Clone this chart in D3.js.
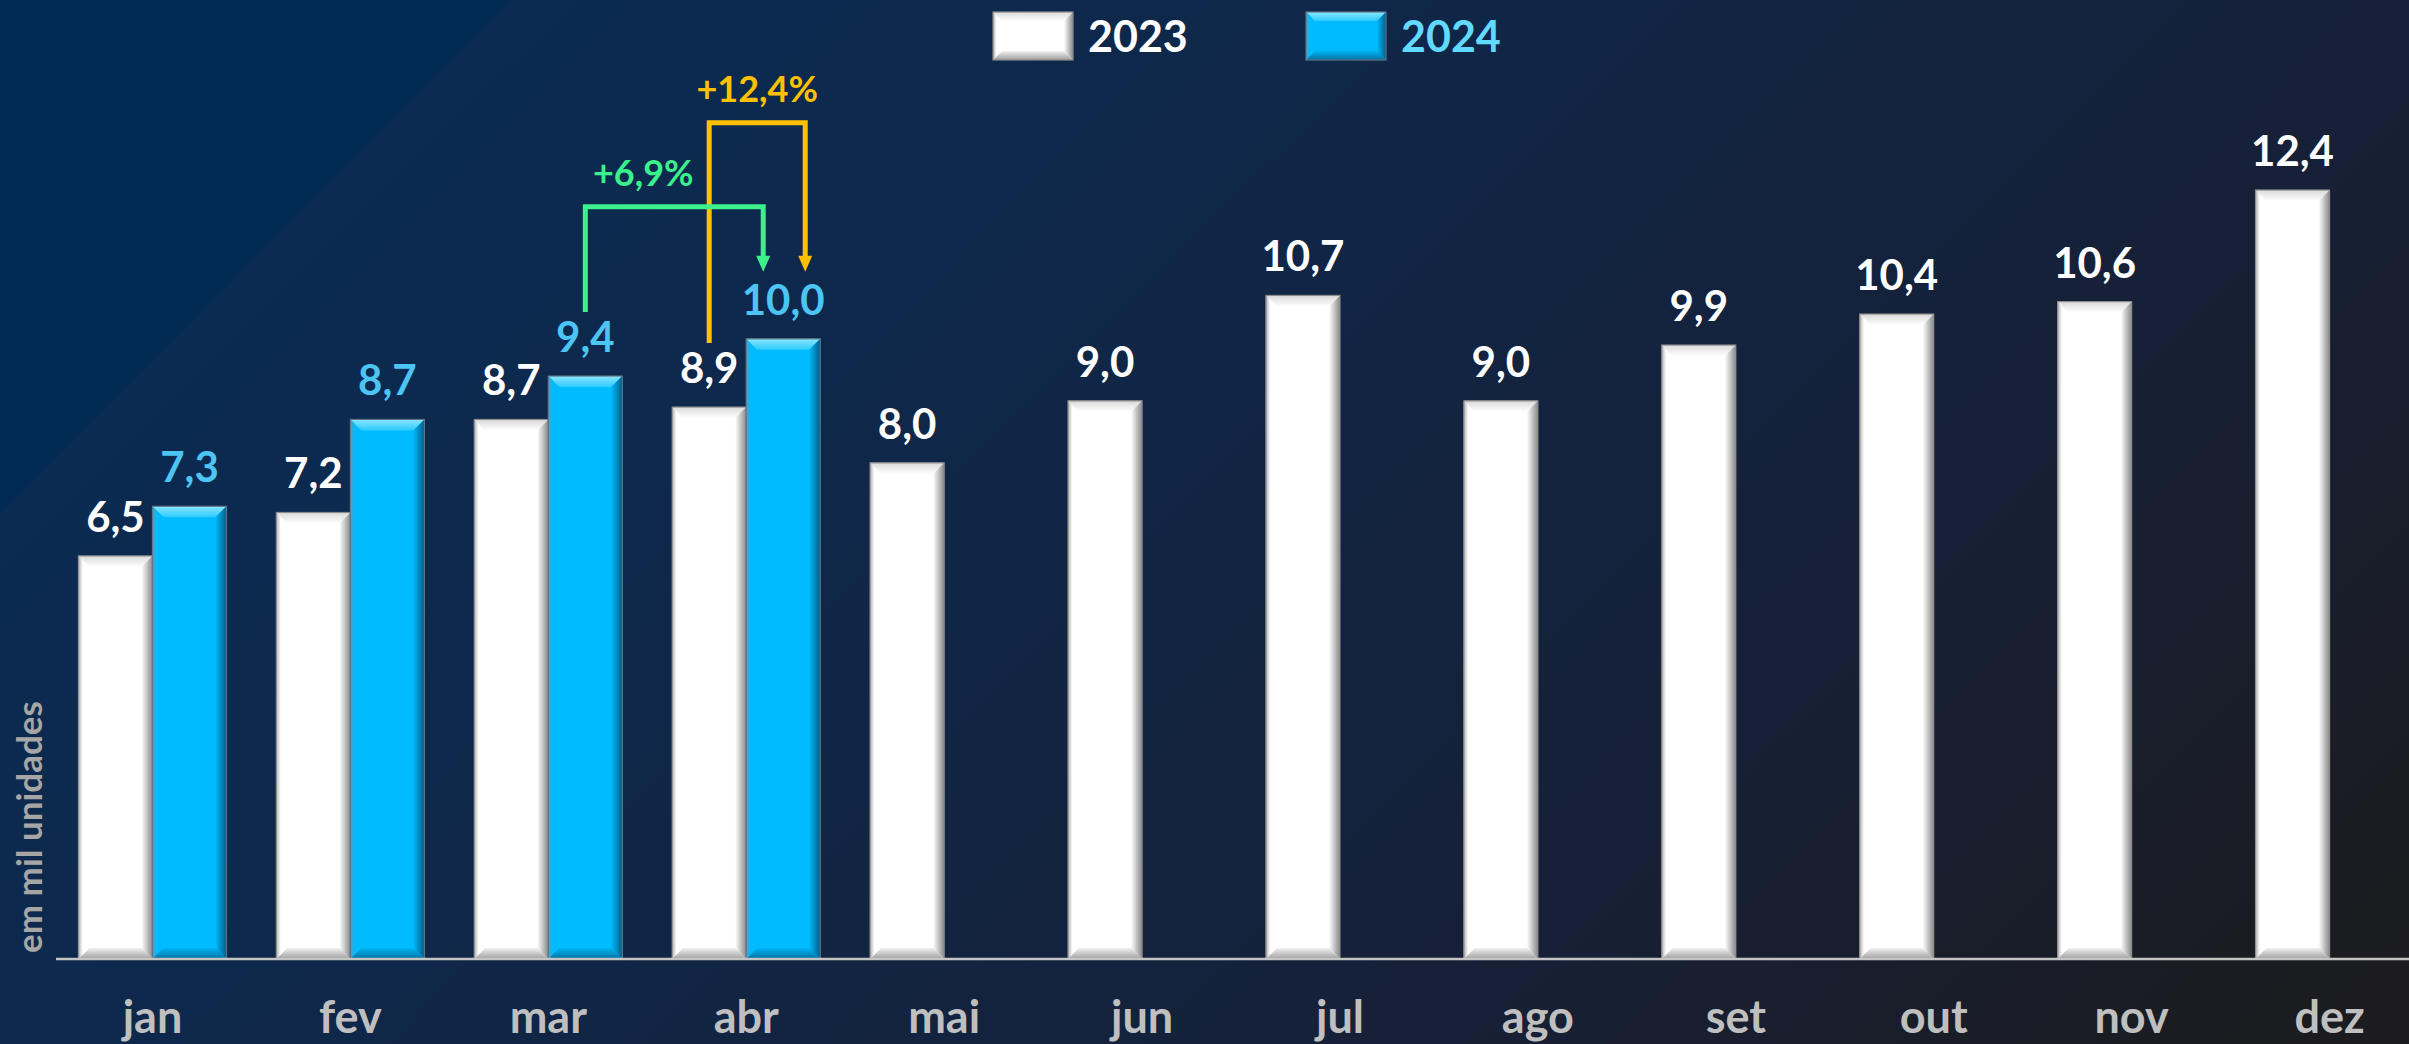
<!DOCTYPE html>
<html>
<head>
<meta charset="utf-8">
<script src="https://d3js.org/d3.v7.min.js"></script>
<title>vendas mensais</title>
<style>
  html, body { margin: 0; padding: 0; background: #0f2747; overflow: hidden; }
  svg { display: block; }
  text { font-family: Lato, "Open Sans", sans-serif; font-weight: 700; }
</style>
</head>
<body>
<svg id="chart"></svg>
<script>
// values (em mil unidades)
const months = ['jan', 'fev', 'mar', 'abr', 'mai', 'jun', 'jul', 'ago', 'set', 'out', 'nov', 'dez'];
const series = ['2023', '2024'];
const values2023 = [6.5, 7.2, 8.7, 8.9, 8.0, 9.0, 10.7, 9.0, 9.9, 10.4, 10.6, 12.4];
const values2024 = [7.3, 8.7, 9.4, 10.0];
const yTitle = 'em mil unidades';

// growth arrows: label, from [month, series], to [month, series]
const growthLabels = ['+6,9%', '+12,4%'];
const growthFrom = [['mar', '2024'], ['abr', '2023']];
const growthTo = [['abr', '2024'], ['abr', '2024']];

const width = 2409, height = 1044;
const svg = d3.select('#chart').attr('width', width).attr('height', height);
const defs = svg.append('defs');

// background
const bg = defs.append('linearGradient').attr('id', 'bg')
    .attr('gradientUnits', 'userSpaceOnUse')
    .attr('x1', 0).attr('y1', 0).attr('x2', 1727).attr('y2', 1727);
[[0, '#082d56'], [0.2, '#0c2a50'], [0.35, '#0e284b'], [0.7, '#162038'], [0.94, '#1b1c21'], [1, '#1c1c1f']]
    .forEach(s => bg.append('stop').attr('offset', s[0]).attr('stop-color', s[1]));
svg.append('rect').attr('width', width).attr('height', height).attr('fill', 'url(#bg)');
svg.append('path').attr('d', 'M0,0 L510,0 L0,515 Z').attr('fill', '#002c54').attr('opacity', 0.85);

// bevel gradients
function grad(id, vertical, c0, c1) {
    const g = defs.append('linearGradient').attr('id', id)
        .attr('x1', 0).attr('y1', 0).attr('x2', vertical ? 0 : 1).attr('y2', vertical ? 1 : 0);
    g.append('stop').attr('offset', 0).attr('stop-color', c0);
    g.append('stop').attr('offset', 1).attr('stop-color', c1);
}
grad('w-top', true, '#d9d9d9', '#ffffff');
grad('w-left', false, '#b3b3b3', '#ffffff');
grad('w-right', false, '#ffffff', '#8a8a8a');
grad('w-bottom', true, '#f2f2f2', '#9e9e9e');
grad('b-top', true, '#8ae6ff', '#2ccbff');
grad('b-left', false, '#5b9dbb', '#00bbff');
grad('b-right', false, '#00b8fb', '#005d88');
grad('b-bottom', true, '#00b4f5', '#00709e');

const look = {
    '2023': {fill: '#ffffff', pre: 'w', stroke: '#8c8c8c', label: '#ffffff', legend: '#ffffff'},
    '2024': {fill: '#00bbff', pre: 'b', stroke: '#5f7485', label: '#4cc4f4', legend: '#62d9ff'}
};

// scales
const x = d3.scaleBand().domain(months).range([53.5, 2428.5]).paddingInner(0.252).paddingOuter(0.126);
const xs = d3.scaleBand().domain(series).range([0, x.bandwidth()]);
const y = d3.scaleLinear().domain([0, 12.4]).range([959, 190]);

const bars = [];
months.forEach((m, i) => {
    bars.push({month: m, series: '2023', value: values2023[i]});
    if (i < values2024.length) bars.push({month: m, series: '2024', value: values2024[i]});
});
const cx = (m, s) => x(m) + xs(s) + xs.bandwidth() / 2;
const valueOf = (m, s) => (s === '2023' ? values2023 : values2024)[months.indexOf(m)];

function bevelBox(g, x0, y0, w, h, s, b) {
    const L = look[s];
    g.append('rect').attr('x', x0).attr('y', y0).attr('width', w).attr('height', h).attr('fill', L.fill);
    const x1 = x0 + w, y1 = y0 + h;
    const sides = {
        top: [[x0, y0], [x1, y0], [x1 - b, y0 + b], [x0 + b, y0 + b]],
        left: [[x0, y0], [x0 + b * 0.4, y0 + b * 0.4], [x0 + b * 0.4, y1 - b * 0.4], [x0, y1]],
        right: [[x1, y0], [x1 - b, y0 + b], [x1 - b, y1 - b], [x1, y1]],
        bottom: [[x0, y1], [x0 + b, y1 - b], [x1 - b, y1 - b], [x1, y1]]
    };
    Object.keys(sides).forEach(k => {
        g.append('polygon').attr('points', sides[k].map(p => p.join(',')).join(' '))
            .attr('fill', `url(#${L.pre}-${k})`);
    });
    g.append('rect').attr('x', x0).attr('y', y0).attr('width', w).attr('height', h)
        .attr('fill', 'none').attr('stroke', L.stroke).attr('stroke-width', 1.2);
}

// bars
const barLayer = svg.append('g');
bars.forEach(d => {
    bevelBox(barLayer, x(d.month) + xs(d.series), y(d.value), xs.bandwidth(), y(0) - y(d.value), d.series, 11);
});

// value labels
svg.append('g').selectAll('text').data(bars).join('text')
    .attr('x', d => cx(d.month, d.series))
    .attr('y', d => y(d.value) - 24)
    .attr('text-anchor', 'middle')
    .attr('font-size', 42)
    .attr('fill', d => look[d.series].label)
    .text(d => d3.format('.1f')(d.value).replace('.', ','));

// x axis
const gx = svg.append('g').attr('transform', `translate(0,${y(0)})`)
    .call(d3.axisBottom(x).tickSize(0));
gx.select('.domain').remove();
gx.selectAll('text').attr('y', 74).attr('dy', 0)
    .attr('font-size', 45).attr('fill', '#bfbfbf');
svg.append('line').attr('x1', 56).attr('x2', width).attr('y1', y(0)).attr('y2', y(0))
    .attr('stroke', '#c4c4c4').attr('stroke-width', 2.5);

// y title
svg.append('text')
    .attr('transform', 'translate(42,827) rotate(-90)')
    .attr('text-anchor', 'middle')
    .attr('font-size', 35)
    .attr('fill', '#a6a6a6')
    .text(yTitle);

// legend
const lg = svg.append('g');
series.forEach((s, i) => {
    const lx = 993 + i * 313;
    bevelBox(lg, lx, 12, 80, 48, s, 9);
    lg.append('text').attr('x', lx + 95).attr('y', 52)
        .attr('font-size', 43).attr('fill', look[s].legend).text(s);
});

// growth arrows
const annColors = ['#3cf08c', '#ffc000'];
const annRise = [65, 149];
const annShift = [-20, 22];
const annLabelDx = [-31, 0];
const annLayer = svg.append('g');
[1, 0].forEach(i => {
    const [fm, fs] = growthFrom[i], [tm, ts] = growthTo[i];
    const x0 = cx(fm, fs), y0 = y(valueOf(fm, fs)) - 64;
    const x1 = cx(tm, ts) + annShift[i], tip = y(valueOf(tm, ts)) - 67;
    const level = tip - annRise[i];
    annLayer.append('path')
        .attr('d', `M${x0},${y0} V${level} H${x1} V${tip - 14}`)
        .attr('fill', 'none').attr('stroke', annColors[i]).attr('stroke-width', 5);
    annLayer.append('polygon')
        .attr('points', `${x1 - 7},${tip - 16} ${x1 + 7},${tip - 16} ${x1},${tip}`)
        .attr('fill', annColors[i]);
    annLayer.append('text')
        .attr('x', (x0 + x1) / 2 + annLabelDx[i]).attr('y', level - 21)
        .attr('text-anchor', 'middle').attr('font-size', 36)
        .attr('fill', annColors[i]).text(growthLabels[i]);
});
</script>
</body>
</html>
